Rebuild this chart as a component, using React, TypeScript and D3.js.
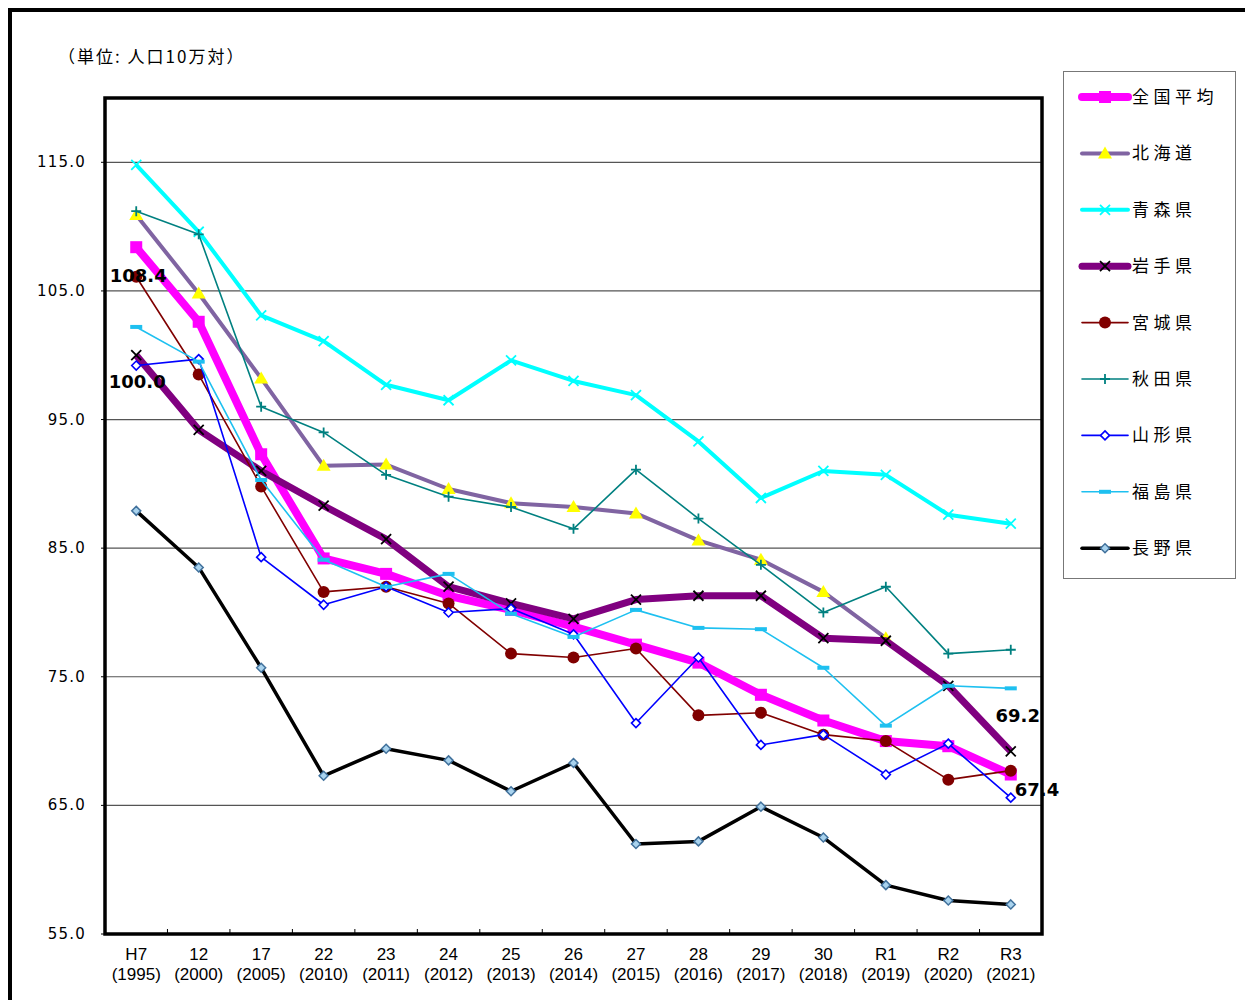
import React from 'react';
import * as d3 from 'd3';

// categories (和暦 + 西暦)
const eras = ['H7', '12', '17', '22', '23', '24', '25', '26', '27', '28', '29', '30', 'R1', 'R2', 'R3'];
const years = ['(1995)', '(2000)', '(2005)', '(2010)', '(2011)', '(2012)', '(2013)', '(2014)', '(2015)', '(2016)', '(2017)', '(2018)', '(2019)', '(2020)', '(2021)'];

const zenkoku = [108.4, 102.6, 92.3, 84.2, 83.0, 81.3, 80.2, 78.9, 77.5, 76.1, 73.6, 71.6, 70.0, 69.6, 67.4];
const hokkaido = [110.9, 104.8, 98.2, 91.4, 91.5, 89.6, 88.5, 88.2, 87.7, 85.6, 84.1, 81.6, 78.0, null, null];
const aomori = [114.8, 109.6, 103.1, 101.1, 97.7, 96.5, 99.6, 98.0, 96.9, 93.3, 88.9, 91.0, 90.7, 87.6, 86.9];
const iwate = [100.0, 94.2, 91.0, 88.3, 85.7, 82.0, 80.7, 79.5, 81.0, 81.3, 81.3, 78.0, 77.8, 74.3, 69.2];
const miyagi = [106.1, 98.5, 89.8, 81.6, 82.0, 80.7, 76.8, 76.5, 77.2, 72.0, 72.2, 70.5, 70.0, 67.0, 67.7];
const akita = [111.2, 109.4, 96.0, 94.0, 90.7, 89.0, 88.2, 86.5, 91.1, 87.3, 83.7, 80.0, 82.0, 76.8, 77.1];
const yamagata = [99.2, 99.7, 84.3, 80.6, 82.0, 80.0, 80.3, 78.3, 71.4, 76.5, 69.7, 70.5, 67.4, 69.8, 65.6];
const fukushima = [102.2, 99.5, 90.3, 84.1, 82.0, 83.0, 79.9, 78.1, 80.2, 78.8, 78.7, 75.7, 71.2, 74.3, 74.1];
const nagano = [87.9, 83.5, 75.7, 67.3, 69.4, 68.5, 66.1, 68.3, 62.0, 62.2, 64.9, 62.5, 58.8, 57.6, 57.3];

const yTicks = [55, 65, 75, 85, 95, 105, 115];

type Series = {
  name: string;
  values: (number | null)[];
  color: string;
  width: number;
  marker: string;
};

const series: Series[] = [
  { name: '全国平均', values: zenkoku, color: '#FF00FF', width: 8, marker: 'square' },
  { name: '北海道', values: hokkaido, color: '#8064A2', width: 4, marker: 'triangle' },
  { name: '青森県', values: aomori, color: '#00FFFF', width: 4, marker: 'xcyan' },
  { name: '岩手県', values: iwate, color: '#800080', width: 7, marker: 'xblack' },
  { name: '宮城県', values: miyagi, color: '#800000', width: 1.6, marker: 'circle' },
  { name: '秋田県', values: akita, color: '#008080', width: 1.6, marker: 'plus' },
  { name: '山形県', values: yamagata, color: '#0000FF', width: 1.6, marker: 'diamond' },
  { name: '福島県', values: fukushima, color: '#1EC0F0', width: 1.6, marker: 'dash' },
  { name: '長野県', values: nagano, color: '#000000', width: 3.5, marker: 'diamondFill' },
];

const W = 1245;
const H = 1000;
const plot = { left: 105, top: 98, right: 1042, bottom: 934 };

const x = d3.scaleBand<string>().domain(eras).range([plot.left, plot.right]);
const y = d3.scaleLinear().domain([55, 120]).range([plot.bottom, plot.top]);
const cx = (i: number) => (x(eras[i]) as number) + x.bandwidth() / 2;

function Marker({ kind, px, py }: { kind: string; px: number; py: number }) {
  switch (kind) {
    case 'square':
      return <rect x={px - 6} y={py - 6} width={12} height={12} fill="#FF00FF" />;
    case 'triangle':
      return <path d={`M${px},${py - 7}L${px + 7},${py + 5}L${px - 7},${py + 5}Z`} fill="#FFFF00" />;
    case 'xcyan':
      return <path d={`M${px - 5},${py - 5}L${px + 5},${py + 5}M${px - 5},${py + 5}L${px + 5},${py - 5}`} stroke="#00FFFF" strokeWidth={1.8} />;
    case 'xblack':
      return <path d={`M${px - 5},${py - 5}L${px + 5},${py + 5}M${px - 5},${py + 5}L${px + 5},${py - 5}`} stroke="#000" strokeWidth={1.8} />;
    case 'circle':
      return <circle cx={px} cy={py} r={6} fill="#800000" />;
    case 'plus':
      return <path d={`M${px - 5},${py}L${px + 5},${py}M${px},${py - 5}L${px},${py + 5}`} stroke="#008080" strokeWidth={1.8} />;
    case 'diamond':
      return <path d={`M${px},${py - 4.5}L${px + 4.5},${py}L${px},${py + 4.5}L${px - 4.5},${py}Z`} fill="#fff" stroke="#0000FF" strokeWidth={1.6} />;
    case 'dash':
      return <rect x={px - 6} y={py - 2} width={12} height={4} fill="#1EC0F0" />;
    case 'diamondFill':
      return <path d={`M${px},${py - 4.5}L${px + 4.5},${py}L${px},${py + 4.5}L${px - 4.5},${py}Z`} fill="#A9D3EE" stroke="#41719C" strokeWidth={1.5} />;
    default:
      return null;
  }
}

export default function App() {
  const line = d3
    .line<number | null>()
    .defined((d) => d != null)
    .x((_, i) => cx(i))
    .y((d) => y(d as number));

  const legendY0 = 97;
  const legendStep = 56.4;
  const labelStyle = { fontFamily: 'DejaVu Sans, sans-serif', fontWeight: 'bold' as const, fontSize: 18 };

  return (
    <div style={{ position: 'absolute', left: 0, top: 0, background: '#fff' }}>
      <svg width={W} height={H} style={{ display: 'block' }}>
        <rect x={0} y={0} width={W} height={H} fill="#fff" />
        {/* outer frame */}
        <rect x={10} y={10} width={W + 20} height={H + 20} fill="none" stroke="#000" strokeWidth={4} />

        <text x={58} y={63} fontFamily="Noto Sans CJK JP, sans-serif" fontSize={17} letterSpacing={2} fill="#000">
          （単位: 人口10万対）
        </text>

        {/* grid */}
        {yTicks.map((t) => (
          <line key={t} x1={plot.left} x2={plot.right} y1={y(t)} y2={y(t)} stroke="#555" strokeWidth={1.2} />
        ))}

        {/* y ticks & labels */}
        {yTicks.map((t) => (
          <g key={'yl' + t}>
            <line x1={plot.left - 4} x2={plot.left} y1={y(t)} y2={y(t)} stroke="#000" strokeWidth={1} />
            <text x={86} y={y(t) + 5} textAnchor="end" fontFamily="DejaVu Sans, sans-serif" fontSize={15} letterSpacing={1.2} fill="#000">
              {t.toFixed(1)}
            </text>
          </g>
        ))}

        {/* x ticks */}
        {eras.slice(1).map((e) => (
          <line key={'xt' + e} x1={x(e) as number} x2={x(e) as number} y1={plot.bottom} y2={plot.bottom - 5} stroke="#000" strokeWidth={1} />
        ))}
        {eras.map((e, i) => (
          <g key={'xl' + e}>
            <text x={cx(i)} y={960} textAnchor="middle" fontFamily="Liberation Sans Narrow, Liberation Sans, sans-serif" fontSize={17} fill="#000">
              {e}
            </text>
            <text x={cx(i)} y={980} textAnchor="middle" fontFamily="Liberation Sans Narrow, Liberation Sans, sans-serif" fontSize={17} fill="#000">
              {years[i]}
            </text>
          </g>
        ))}

        {/* series */}
        {series.map((s) => (
          <g key={s.name}>
            <path d={line(s.values) || ''} fill="none" stroke={s.color} strokeWidth={s.width} strokeLinejoin="round" />
            {s.values.map((v, i) => (v == null ? null : <Marker key={i} kind={s.marker} px={cx(i)} py={y(v)} />))}
          </g>
        ))}

        {/* data labels */}
        <text x={cx(0) + 2} y={y(zenkoku[0]) + 35} textAnchor="middle" {...labelStyle}>
          {zenkoku[0].toFixed(1)}
        </text>
        <text x={cx(0) + 1} y={y(iwate[0]) + 33} textAnchor="middle" {...labelStyle}>
          {iwate[0].toFixed(1)}
        </text>
        <text x={cx(14) + 7} y={y(iwate[14]) - 29} textAnchor="middle" {...labelStyle}>
          {iwate[14].toFixed(1)}
        </text>
        <text x={cx(14) + 4} y={y(zenkoku[14]) + 21} textAnchor="start" {...labelStyle}>
          {zenkoku[14].toFixed(1)}
        </text>

        {/* plot border */}
        <rect x={plot.left} y={plot.top} width={plot.right - plot.left} height={plot.bottom - plot.top} fill="none" stroke="#000" strokeWidth={3.5} />

        {/* legend */}
        <rect x={1063.5} y={71.5} width={172} height={507} fill="#fff" stroke="#777" strokeWidth={1} />
        {series.map((s, i) => {
          const ly = legendY0 + i * legendStep;
          return (
            <g key={'lg' + s.name}>
              <line x1={1082} x2={1128} y1={ly} y2={ly} stroke={s.color} strokeWidth={s.width} strokeLinecap="round" />
              <Marker kind={s.marker} px={1105} py={ly} />
              <text x={1132} y={ly + 6} fontFamily="Noto Sans CJK JP, sans-serif" fontSize={17} letterSpacing={4.5} fill="#000">
                {s.name}
              </text>
            </g>
          );
        })}
      </svg>
    </div>
  );
}
